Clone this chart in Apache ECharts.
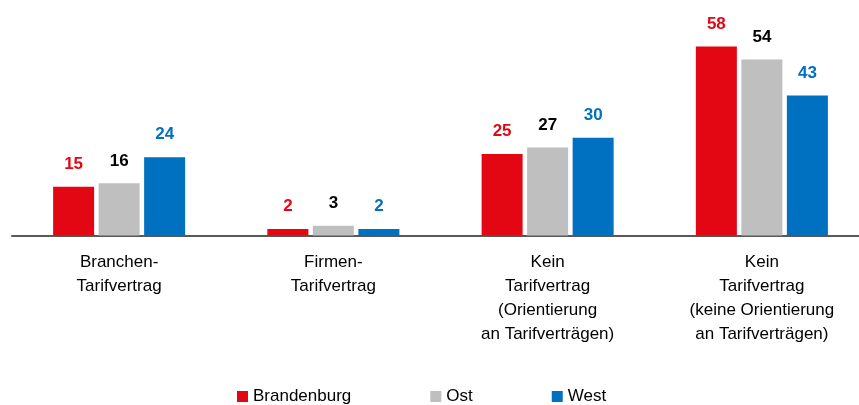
<!DOCTYPE html>
<html>
<head>
<meta charset="utf-8">
<script src="https://cdn.jsdelivr.net/npm/echarts@6/dist/echarts.min.js"></script>
<style>
    html, body { margin: 0; padding: 0; background: #fff; }
    #chart { width: 859px; height: 405px; }
</style>
</head>
<body>
<div id="chart"></div>
<script>
var categories = [
    'Branchen-\nTarifvertrag',
    'Firmen-\nTarifvertrag',
    'Kein\nTarifvertrag\n(Orientierung\nan Tarifverträgen)',
    'Kein\nTarifvertrag\n(keine Orientierung\nan Tarifverträgen)'
];
var brandenburg = [15, 2, 25, 58];
var ost = [16, 3, 27, 54];
var west = [24, 2, 30, 43];

(function () {
    'use strict';

    var FONT = "'Liberation Sans', Arial, sans-serif";

    function barSeries(name, data, color, labelColor) {
        return {
            name: name,
            type: 'bar',
            data: data,
            barWidth: 41,
            barGap: '11%',
            itemStyle: { color: color },
            label: {
                show: true,
                position: 'top',
                distance: 14,
                color: labelColor,
                fontFamily: FONT,
                fontWeight: 'bold',
                fontSize: 17
            }
        };
    }

    var chart = echarts.init(document.getElementById('chart'));
    chart.setOption({
        animation: false,
        backgroundColor: '#fff',
        grid: {
            left: 12, top: 40, width: 857, height: 195.5,
            containLabel: false,
            outerBoundsMode: 'none'
        },
        legend: {
            left: 237,
            top: 388,
            padding: 0,
            itemWidth: 11,
            itemHeight: 11,
            itemGap: 79,
            icon: 'rect',
            textStyle: { fontFamily: FONT, fontSize: 17, color: '#000' },
            data: ['Brandenburg', 'Ost', 'West']
        },
        xAxis: {
            type: 'category',
            data: categories,
            axisLine: { lineStyle: { color: '#595959', width: 2 } },
            axisTick: { show: false },
            axisLabel: {
                margin: 15,
                color: '#000',
                fontFamily: FONT,
                fontSize: 17,
                lineHeight: 24,
                interval: 0
            }
        },
        yAxis: {
            type: 'value',
            min: 0,
            max: 60,
            show: false,
            splitLine: { show: false }
        },
        series: [
            barSeries('Brandenburg', brandenburg, '#e30613', '#e30613'),
            barSeries('Ost', ost, '#bfbfbf', '#000'),
            barSeries('West', west, '#0070c0', '#0070c0')
        ]
    });
})();
</script>
</body>
</html>
